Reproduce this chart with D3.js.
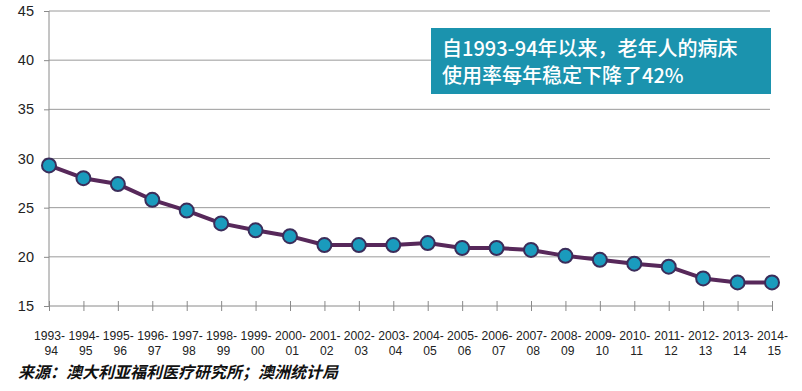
<!DOCTYPE html>
<html><head><meta charset="utf-8">
<script src="https://cdn.jsdelivr.net/npm/d3@7"></script>
<style>
body{margin:0;background:#fff;}
svg{display:block;}
</style></head>
<body>
<svg id="c" width="802" height="391"></svg>
<script>
const categories = ["1993-94","1994-95","1995-96","1996-97","1997-98","1998-99","1999-00","2000-01","2001-02","2002-03","2003-04","2004-05","2005-06","2006-07","2007-08","2008-09","2009-10","2010-11","2011-12","2012-13","2013-14","2014-15"];
const values = [29.3,28.0,27.4,25.8,24.7,23.4,22.7,22.1,21.2,21.2,21.2,21.4,20.9,20.9,20.7,20.1,19.7,19.3,19.0,17.8,17.4,17.4];
const yTicks = [15,20,25,30,35,40,45];
const annotation = ["自1993-94年以来，老年人的病床","使用率每年稳定下降了42%"];
const source = "来源：澳大利亚福利医疗研究所；澳洲统计局";

const svg = d3.select("#c");
const x = d3.scalePoint().domain(categories).range([49, 772]);
const y = d3.scaleLinear().domain([15,45]).range([306, 11]);

// gridlines
svg.append("g").selectAll("line").data(yTicks.filter(d=>d>15)).join("line")
  .attr("x1",49).attr("x2",770).attr("y1",d=>y(d)).attr("y2",d=>y(d))
  .attr("stroke","#9a9a9a").attr("stroke-width",1);

// y axis
const ya = svg.append("g").attr("transform","translate(49,0)")
  .call(d3.axisLeft(y).tickValues(yTicks).tickSize(5).tickPadding(10));
ya.select(".domain").attr("stroke","#8a8a8a").attr("d","M0,"+y(45)+"V"+y(15));
ya.selectAll(".tick line").attr("stroke","#8a8a8a");
ya.selectAll("text").attr("font-family","Liberation Sans, Arial, sans-serif").attr("font-size",14.5).attr("fill","#222");

// x axis
const xa = svg.append("g").attr("transform","translate(0,306)")
  .call(d3.axisBottom(x).tickSize(0).tickFormat(""));
xa.select(".domain").attr("stroke","#8a8a8a").attr("d","M49,0H772");
xa.selectAll(".tick").append("line").attr("y1",-5).attr("y2",5).attr("stroke","#8a8a8a");
const xg = xa.selectAll(".tick").append("g").attr("transform","scale(0.9,1)");
xg.append("text").attr("x",0).attr("y",34).text(d=>d.split("-")[0]+"-")
  .attr("font-family","Liberation Sans, Arial, sans-serif").attr("font-size",13.5).attr("fill","#222")
  .attr("text-anchor","middle");
xg.append("text").attr("x",2).attr("y",49).text(d=>d.split("-")[1])
  .attr("font-family","Liberation Sans, Arial, sans-serif").attr("font-size",13.5).attr("fill","#222")
  .attr("text-anchor","middle");

// line
svg.append("path").datum(values)
  .attr("d", d3.line().x((d,i)=>x(categories[i])).y(d=>y(d)))
  .attr("fill","none").attr("stroke","#57285a").attr("stroke-width",4).attr("stroke-linejoin","round");

svg.append("g").selectAll("circle").data(values).join("circle")
  .attr("cx",(d,i)=>x(categories[i])).attr("cy",d=>y(d)).attr("r",7)
  .attr("fill","#1a9bbd").attr("stroke","#3b2d5a").attr("stroke-width",2);

// annotation
svg.append("rect").attr("x",431).attr("y",28).attr("width",340).attr("height",66).attr("fill","#1b93ae");
svg.append("g").selectAll("text").data(annotation).join("text")
  .attr("x",442).attr("y",(d,i)=>56+i*27)
  .attr("font-family","Noto Sans CJK SC, sans-serif").attr("font-size",20).attr("font-weight",500)
  .attr("fill","#fff").text(d=>d);

// source
svg.append("text").attr("x",18).attr("y",378).text(source)
  .attr("font-family","Noto Sans CJK SC, sans-serif").attr("font-size",16).attr("font-weight",700)
  .attr("font-style","italic").attr("fill","#111");
</script>
</body></html>
